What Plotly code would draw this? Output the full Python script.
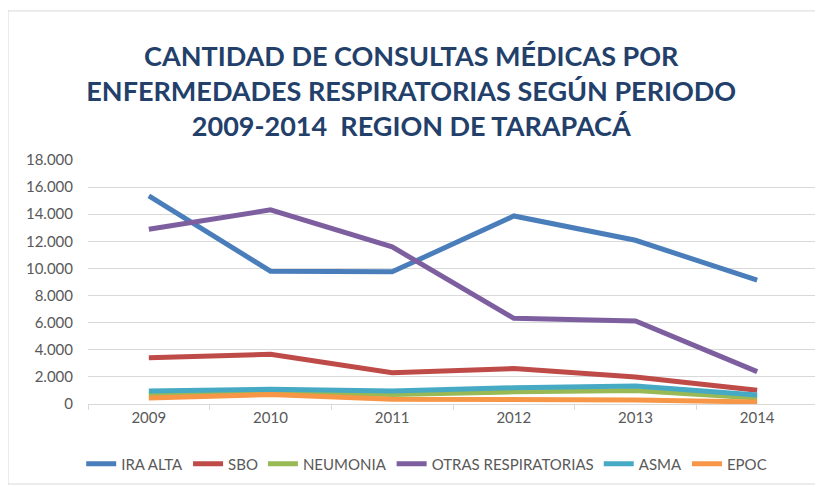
import plotly.graph_objects as go

years = [2009, 2010, 2011, 2012, 2013, 2014]

ira_alta = [15350, 9800, 9750, 13870, 12080, 9130]
sbo = [3420, 3670, 2310, 2610, 1990, 1010]
neumonia = [700, 900, 700, 900, 1000, 450]
otras_resp = [12890, 14320, 11590, 6320, 6125, 2390]
asma = [960, 1080, 960, 1200, 1330, 660]
epoc = [450, 700, 350, 300, 300, 150]

series = [
    ("IRA ALTA", ira_alta, "#4A7EBB"),
    ("SBO", sbo, "#BE4B48"),
    ("NEUMONIA", neumonia, "#98B954"),
    ("OTRAS RESPIRATORIAS", otras_resp, "#7D5FA0"),
    ("ASMA", asma, "#46AAC5"),
    ("EPOC", epoc, "#F79646"),
]

fig = go.Figure()
for name, vals, color in series:
    fig.add_trace(go.Scatter(
        x=years, y=vals, name=name, mode="lines",
        line=dict(color=color, width=5),
    ))

title_txt = ("CANTIDAD DE CONSULTAS MÉDICAS POR<br>"
             "ENFERMEDADES RESPIRATORIAS SEGÚN PERIODO<br>"
             "2009-2014  REGION DE TARAPACÁ")

# page has an 8px body margin, margins below compensate for it
fig.update_layout(
    width=823, height=487,
    margin=dict(l=80, r=13, t=152, b=91),
    paper_bgcolor="white", plot_bgcolor="white",
    separators=",.",
    title=dict(
        text=title_txt, x=0.49, xref="container", xanchor="center",
        y=0.881, yref="container", yanchor="middle",
        font=dict(family="Lato", size=27, color="#22406A", weight="bold"),
    ),
    font=dict(family="Lato", size=15, color="#595959"),
    showlegend=True,
    legend=dict(
        orientation="h", x=0.464, xanchor="center", y=-0.246, yanchor="middle",
        font=dict(size=15, color="#595959"), itemwidth=30, tracegroupgap=0,
    ),
    xaxis=dict(
        range=[2008.5, 2014.5], tickvals=years, ticktext=[str(y) for y in years],
        showgrid=False, zeroline=False, showline=True, linecolor="#D9D9D9",
        ticks="", tickfont=dict(size=15),
        minor=dict(tick0=2008.5, dtick=1, ticks="outside", ticklen=5,
                   tickcolor="#D9D9D9", showgrid=False),
    ),
    yaxis=dict(
        range=[0, 18000], dtick=2000, tickformat=",d",
        showgrid=True, gridcolor="#D9D9D9", zeroline=False, showline=False,
        tickfont=dict(size=15), ticklabelstandoff=14,
    ),
    shapes=[dict(
        type="rect", xref="paper", yref="paper",
        x0=-0.1096, x1=1.03, y0=-0.328, y1=1.611,
        line=dict(color="#D9D9D9", width=1), layer="below",
    )],
)

fig.write_html("out.html")
